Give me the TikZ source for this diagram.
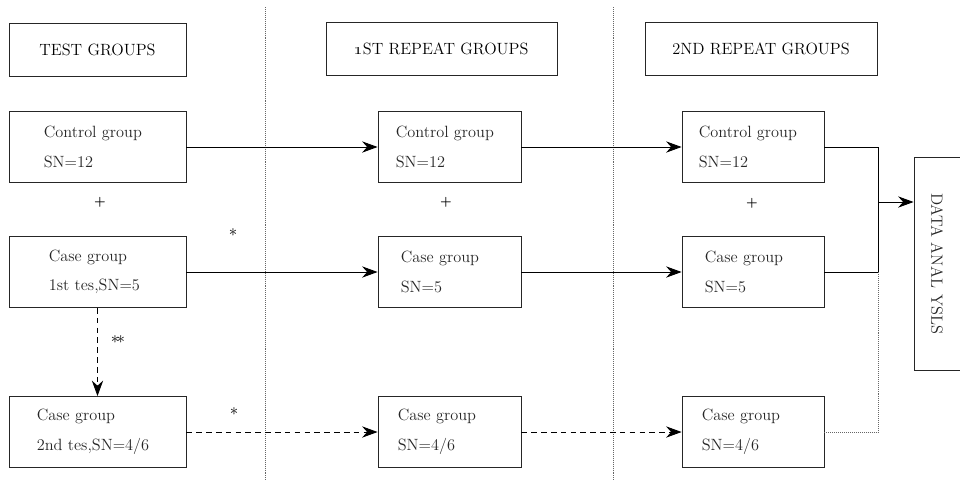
\documentclass[tikz,border=0pt]{standalone}
\usepackage{tikz}
\usetikzlibrary{arrows.meta, positioning, calc}

\begin{document}
\begin{tikzpicture}[
    every node/.style={font=\fontsize{11.6}{21}\selectfont},
    hdr/.style={
      rectangle, draw=black!85, line width=0.6pt,
      minimum height=1.325cm},
    grp/.style={
      rectangle, draw=black!85, line width=0.6pt,
      minimum height=1.775cm},
    txt/.style={anchor=west, inner sep=0pt, align=left, text=black!85},
    sep/.style={densely dotted, line width=0.4pt, gray!80!black},
    flow/.style={-{Stealth[length=11pt, width=8pt]}, line width=0.6pt},
    brk/.style={dash pattern=on 4pt off 3pt},
    note/.style={inner sep=1pt, font=\large},
    plus/.style={inner sep=1pt, font=\small\bfseries}
  ]
    \useasboundingbox (0,0) rectangle (24,-12);
    \clip (0,0) rectangle (24,-12);

    % column separators
    \draw[sep] (6.625,-0.175) -- (6.625,-12);
    \draw[sep] (15.325,-0.175) -- (15.325,-12);

    % headers
    \node[hdr, minimum width=4.425cm] (h0) at (2.4375,-1.2375) {TEST GROUPS};
    \node[hdr, minimum width=5.775cm] (h1) at (11.0375,-1.2125)
      {\oldstylenums{1}ST REPEAT GROUPS};
    \node[hdr, minimum width=5.8cm] (h2) at (19.025,-1.2125) {2ND REPEAT GROUPS};

    % test groups
    \node[grp, minimum width=4.425cm] (t0) at (2.4375,-3.675) {};
    \node[grp, minimum width=4.425cm] (t1) at (2.4375,-6.8) {};
    \node[grp, minimum width=4.425cm] (t2) at (2.4375,-10.8) {};
    \node[txt] (t0t) at ([xshift=0.875cm]t0.west) {Control group\\SN=12};
    \node[txt] (t1t) at ([xshift=1.0cm]t1.west) {Case group\\1st tes,SN=5};
    \node[txt] (t2t) at ([xshift=0.7cm]t2.west) {Case group\\2nd tes,SN=4/6};

    % 1st repeat groups
    \node[grp, minimum width=3.575cm] (r1c0) at (11.2375,-3.675) {};
    \node[grp, minimum width=3.575cm] (r1c1) at (11.2375,-6.8) {};
    \node[grp, minimum width=3.575cm] (r1c2) at (11.2375,-10.8) {};
    \node[txt] (r1c0t) at ([xshift=0.45cm]r1c0.west) {Control group\\SN=12};
    \node[txt] (r1c1t) at ([xshift=0.575cm]r1c1.west) {Case group\\SN=5};
    \node[txt] (r1c2t) at ([xshift=0.5cm]r1c2.west) {Case group\\SN=4/6};

    % 2nd repeat groups
    \node[grp, minimum width=3.55cm] (r2c0) at (18.825,-3.675) {};
    \node[grp, minimum width=3.55cm] (r2c1) at (18.825,-6.8) {};
    \node[grp, minimum width=3.55cm] (r2c2) at (18.825,-10.8) {};
    \node[txt] (r2c0t) at ([xshift=0.425cm]r2c0.west) {Control group\\SN=12};
    \node[txt] (r2c1t) at ([xshift=0.575cm]r2c1.west) {Case group\\SN=5};
    \node[txt] (r2c2t) at ([xshift=0.5cm]r2c2.west) {Case group\\SN=4/6};

    % analysis box
    \node[rectangle, draw=black!85, line width=0.6pt, minimum width=1.2cm,
          minimum height=5.325cm] (data) at (23.45,-6.5875) {};
    \node[rotate=-90, inner sep=0pt, text=black!85] (datat) at (23.425,-6.5875)
      {DATA ANAL YSLS};

    % marks
    \node[plus] (p0) at (2.5,-5.05) {+};
    \node[plus] (p1) at (11.15,-5.05) {+};
    \node[plus] (p2) at (18.8,-5.075) {+};
    \node[note] (s0) at (5.825,-5.825) {$\ast$};
    \node[note] (s1) at (5.85,-10.3) {$\ast$};
    \node[note] (s2) at (2.95,-8.5) {$\ast\!\ast$};

    % flows
    \draw[flow] (t0) -- (r1c0);
    \draw[flow] (r1c0) -- (r2c0);
    \draw[flow] (t1) -- (r1c1);
    \draw[flow] (r1c1) -- (r2c1);
    \draw[flow, brk] (t2) -- (r1c2);
    \draw[flow, brk] (r1c2) -- (r2c2);
    \draw[flow, brk] (t1) -- (t2);

    % merge into analysis
    \coordinate (mj) at (21.95,-5.05);
    \draw[line width=0.6pt] (r2c0) -- (r2c0 -| mj) -- (r2c1 -| mj) -- (r2c1);
    \draw[sep] (r2c2) -- (r2c2 -| mj) -- (r2c1 -| mj);
    \draw[flow] (mj) -- (mj -| data.west);
\end{tikzpicture}
\end{document}
